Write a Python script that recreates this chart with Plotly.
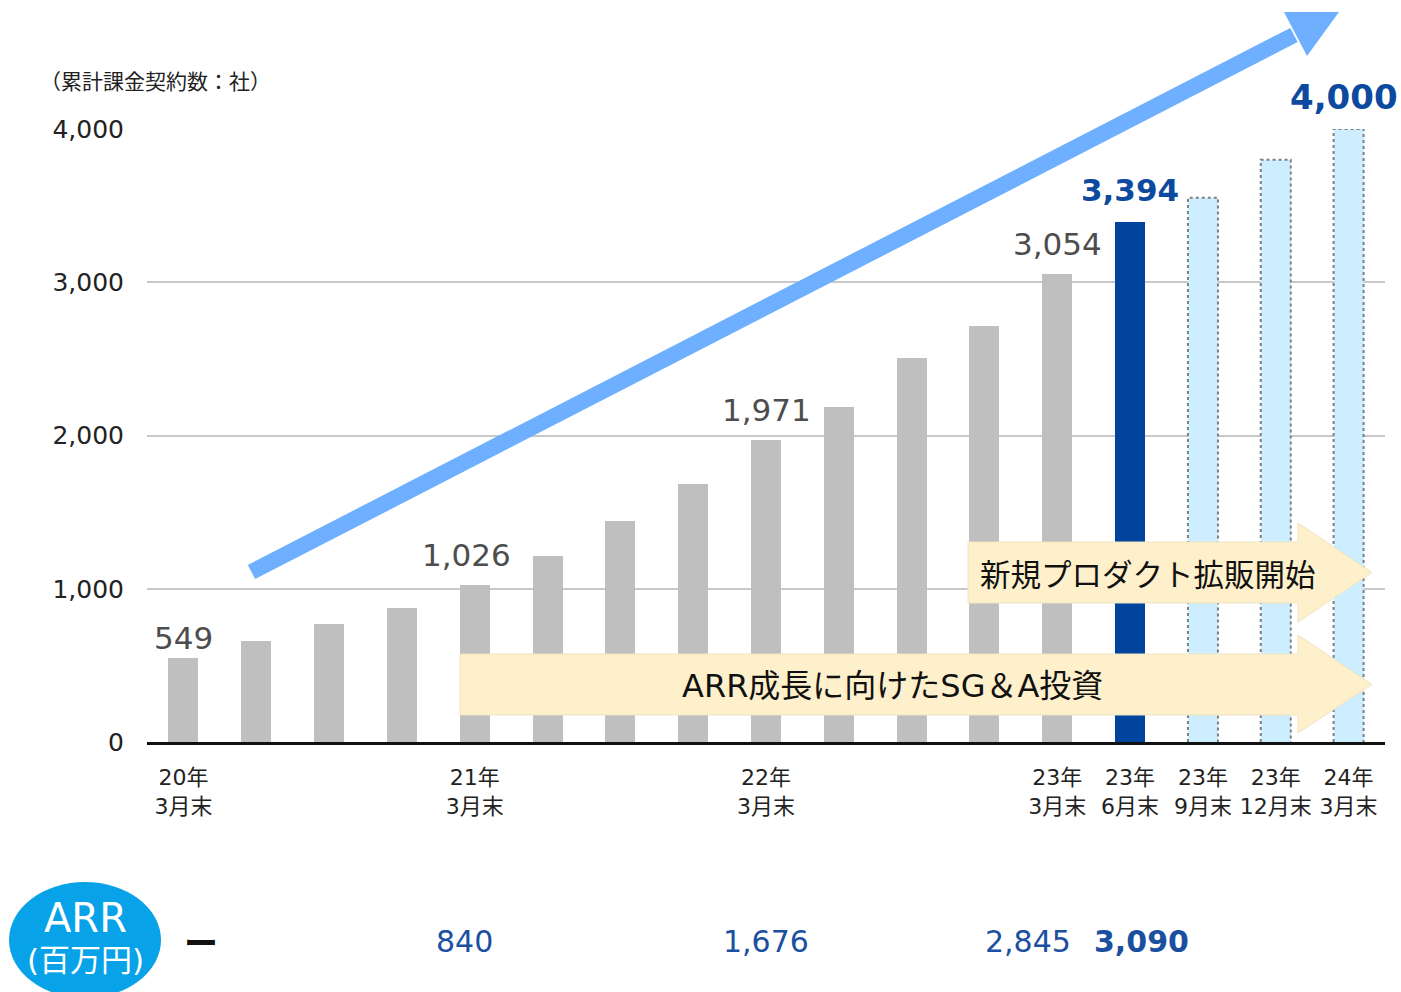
import plotly.graph_objects as go

# ---------------- data ----------------
periods = ["20/3", "20/6", "20/9", "20/12", "21/3", "21/6", "21/9", "21/12",
           "22/3", "22/6", "22/9", "22/12", "23/3", "23/6", "23/9", "23/12", "24/3"]
contracts = [549, 660, 770, 875, 1026, 1214, 1443, 1684,
             1971, 2187, 2507, 2715, 3054, 3394, 3551, 3799, 4000]
bar_kind = ["actual"] * 13 + ["latest"] + ["plan"] * 3

tick_idx = [0, 4, 8, 12, 13, 14, 15, 16]
tick_text = ["20年<br>3月末", "21年<br>3月末", "22年<br>3月末", "23年<br>3月末",
             "23年<br>6月末", "23年<br>9月末", "23年<br>12月末", "24年<br>3月末"]
y_ticks = [0, 1000, 2000, 3000, 4000]

label_idx = [0, 4, 8, 12, 13, 16]

arr_idx = [0, 4, 8, 12, 13]
arr_text = ["ー", "840", "1,676", "2,845", "3,090"]

y_title = "（累計課金契約数：社）"
arrow_top_text = "新規プロダクト拡販開始"
arrow_bottom_text = "ARR成長に向けたSG＆A投資"

# ---------------- styles ----------------
FONT = "DejaVu Sans, Noto Sans CJK JP, sans-serif"
GRAY = "#bfbfbf"
NAVY = "#00449e"
LIGHT = "#cdeeff"
BLUE_TXT = "#1b4f9f"
BEIGE = "#fff0cc"
BIG_ARROW = "#6eb0ff"

W, H = 1401, 992
L, R, T, B = 147, 1385, 129, 742
BAR_W = 0.412

def xp(px):
    return (px - L) / (R - L)

def yp(py):
    return (B - py) / (B - T)

colors = [GRAY if k == "actual" else NAVY if k == "latest" else LIGHT for k in bar_kind]
xs = list(range(len(periods)))

fig = go.Figure()
fig.add_trace(go.Bar(
    x=xs, y=contracts, width=BAR_W, marker=dict(color=colors, line=dict(width=0)),
    hoverinfo="skip", showlegend=False,
))

# dotted outlines for planned bars
for i, (v, k) in enumerate(zip(contracts, bar_kind)):
    if k == "plan":
        fig.add_trace(go.Scatter(
            x=[i - BAR_W / 2, i - BAR_W / 2, i + BAR_W / 2, i + BAR_W / 2],
            y=[0, v, v, 0], mode="lines",
            line=dict(color="#7f7f7f", width=2, dash="dot"),
            hoverinfo="skip", showlegend=False,
        ))

shapes = []
# big blue trend arrow
shapes.append(dict(type="line", xref="paper", yref="paper",
                   x0=xp(251.5), y0=yp(572), x1=xp(1294), y1=yp(35),
                   line=dict(color=BIG_ARROW, width=16), layer="above"))
shapes.append(dict(type="path", xref="paper", yref="paper",
                   path=f"M{xp(1284)},{yp(12)} L{xp(1339)},{yp(12)} L{xp(1307)},{yp(56)} Z",
                   fillcolor=BIG_ARROW, line=dict(width=0), layer="above"))

def beige_arrow(x_left, y_top, y_bot, head_top, head_bot, x_neck, x_tip):
    ym = (y_top + y_bot) / 2
    pts = [(x_left, y_top), (x_neck, y_top), (x_neck, head_top), (x_tip, ym),
           (x_neck, head_bot), (x_neck, y_bot), (x_left, y_bot)]
    path = "M" + " L".join(f"{xp(a)},{yp(b)}" for a, b in pts) + " Z"
    return dict(type="path", xref="paper", yref="paper", path=path,
                fillcolor=BEIGE, line=dict(color="#efe3c2", width=1), layer="above")

shapes.append(beige_arrow(968, 542, 603, 523, 622, 1298, 1372))
shapes.append(beige_arrow(460, 654, 715, 635, 733, 1298, 1372))

# ARR ellipse
shapes.append(dict(type="circle", xref="paper", yref="paper",
                   x0=xp(9), x1=xp(161), y0=yp(882), y1=yp(998),
                   fillcolor="#08a2e8", line=dict(width=0), layer="above"))

annotations = []
# bar value labels
label_shift = {0: 20, 4: 30, 8: 30, 12: 30, 13: 32, 16: 32}
label_xshift = {0: 0, 4: -8, 8: 0, 12: 0, 13: 0, 16: -5}
for i in label_idx:
    v = contracts[i]
    kind = bar_kind[i]
    if kind == "actual":
        font = dict(family=FONT, size=31, color="#4d4d4d")
    elif kind == "latest":
        font = dict(family=FONT, size=31, color="#0b4a9f", weight="bold")
    else:
        font = dict(family=FONT, size=34, color="#0b4a9f", weight="bold")
    annotations.append(dict(x=i, y=v, xref="x", yref="y", text=f"{v:,}",
                            showarrow=False, yanchor="middle", xanchor="center",
                            yshift=label_shift[i], xshift=label_xshift[i], font=font))

# y-axis unit title
annotations.append(dict(x=xp(155), y=yp(82), xref="paper", yref="paper", text=y_title,
                        showarrow=False, xanchor="center", yanchor="middle",
                        font=dict(family=FONT, size=21, color="#222")))

# beige arrow texts
annotations.append(dict(x=xp(978), y=yp(575), xref="paper", yref="paper", text=arrow_top_text,
                        showarrow=False, xanchor="left", yanchor="middle",
                        font=dict(family=FONT, size=30.5, color="#111")))
annotations.append(dict(x=xp(893), y=yp(686), xref="paper", yref="paper", text=arrow_bottom_text,
                        showarrow=False, xanchor="center", yanchor="middle",
                        font=dict(family=FONT, size=32, color="#111")))

# ARR badge text
annotations.append(dict(x=xp(85), y=yp(918), xref="paper", yref="paper", text="ARR",
                        showarrow=False, xanchor="center", yanchor="middle",
                        font=dict(family=FONT, size=40, color="white")))
annotations.append(dict(x=xp(85), y=yp(960), xref="paper", yref="paper", text="(百万円)",
                        showarrow=False, xanchor="center", yanchor="middle",
                        font=dict(family=FONT, size=31, color="white")))

# ARR row values
arr_xshift = [18, -10, 0, -29, 11]
for j, (i, t) in enumerate(zip(arr_idx, arr_text)):
    last = j == len(arr_idx) - 1
    if t == "ー":
        font = dict(family="Noto Sans CJK JP", size=34, color="#111", weight="bold")
    else:
        font = dict(family=FONT, size=30, color=BLUE_TXT, weight="bold" if last else "normal")
    annotations.append(dict(x=i, y=yp(941), xref="x", yref="paper", text=t,
                            showarrow=False, xanchor="center", yanchor="middle",
                            xshift=arr_xshift[j], font=font))

fig.update_layout(
    width=W, height=H,
    margin=dict(l=L, r=W - R, t=T, b=H - B, pad=0),
    paper_bgcolor="white", plot_bgcolor="white",
    bargap=0, showlegend=False,
    shapes=shapes, annotations=annotations,
    xaxis=dict(range=[-0.5, 16.5], tickvals=tick_idx, ticktext=tick_text,
               showgrid=False, zeroline=False, showline=True, linecolor="#111", linewidth=3,
               ticks="", ticklabelstandoff=14,
               tickfont=dict(family=FONT, size=22, color="#222")),
    yaxis=dict(range=[0, 4000], tickvals=y_ticks, tickformat=",",
               showgrid=True, gridcolor="#c8c8c8", gridwidth=2, zeroline=False,
               showline=False, ticks="", ticklabelstandoff=22,
               tickfont=dict(family=FONT, size=25, color="#222")),
)

fig.write_html("out.html")
